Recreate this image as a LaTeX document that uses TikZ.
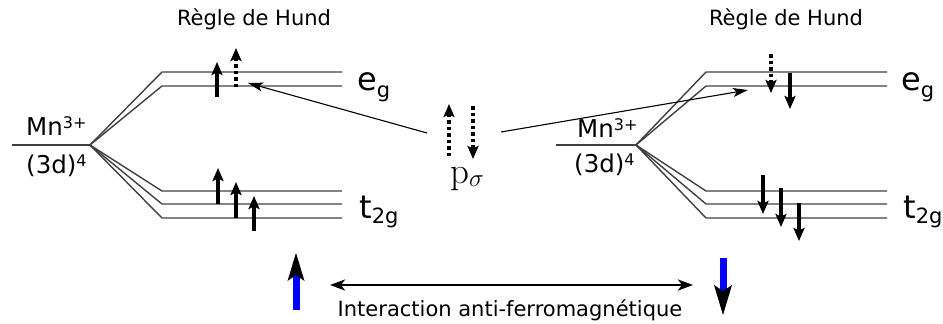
\documentclass[tikz,border=0pt]{standalone}
\usepackage{fontspec}
\newfontfamily\dv{DejaVu Sans}
\usetikzlibrary{arrows.meta}
\newcommand\myexp[2]{\raisebox{#2}{\fontsize{16}{16}\selectfont #1}}
\newcommand\mysub[2]{\raisebox{#2}{\fontsize{21}{21}\selectfont #1}}
\begin{document}
\begin{tikzpicture}[x=1pt,y=-1pt,
  level/.style={draw=black!75, line width=1.4pt},
  spin/.style={line width=3.6pt, -{Stealth[length=13pt,width=11pt,inset=2.5pt]}},
  dspin/.style={spin, dash pattern=on 3.5pt off 3pt},
  conn/.style={line width=1.1pt, -{Stealth[length=15pt,width=9pt,inset=3.5pt]}},
  hund/.style={inner sep=0pt, anchor=base, font=\dv\fontsize{21}{25}\selectfont},
  mn/.style={inner sep=0pt, anchor=base west, font=\dv\fontsize{24.5}{28}\selectfont},
  orb/.style={inner sep=0pt, anchor=base west, font=\dv\fontsize{32}{36}\selectfont},
  big/.style={fill=black},
]
\useasboundingbox (0,0) rectangle (943,324);

% ---------- left ion ----------
\coordinate (Lv) at (90,145);
\coordinate (Lm) at (12,145);
\draw[level] (Lm) -- (Lv);
\foreach \y in {72,86,191,204,218}{
  \draw[level] (Lv) -- (162,\y) -- (342,\y);
}
\node[mn] (mnL) at (26,135) {Mn\myexp{3+}{7pt}};
\node[mn] (dL) at (26,173) {(3d)\myexp{4}{7pt}};
\node[orb] (egL) at (357,90) {e\mysub{g}{-7pt}};
\node[orb] (tL) at (359,218) {t\mysub{2g}{-5pt}};
\node[hund] (hL) at (254,25) {Règle de Hund};

\draw[spin] (217,97) -- (217,62);
\draw[dspin] (236,87) -- (236,48);
\draw[spin] (218,204) -- (218,168);
\draw[spin] (236,218) -- (236,182);
\draw[spin] (254,231) -- (254,196);

% ---------- right ion ----------
\coordinate (Rv) at (636,145);
\coordinate (Rm) at (556,145);
\draw[level] (Rm) -- (Rv);
\foreach \y in {72,86,191,204,218}{
  \draw[level] (Rv) -- (706,\y) -- (887,\y);
}
\node[mn] (mnR) at (577,137) {Mn\myexp{3+}{7pt}};
\node[mn] (dR) at (574,172) {(3d)\myexp{4}{7pt}};
\node[orb] (egR) at (901,90) {e\mysub{g}{-7pt}};
\node[orb] (tR) at (903,218) {t\mysub{2g}{-5pt}};
\node[hund] (hR) at (786,25) {Règle de Hund};

\draw[dspin] (771,54) -- (771,93);
\draw[spin] (790,73) -- (790,109);
\draw[spin] (763,175) -- (763,214);
\draw[spin] (781,188) -- (781,227);
\draw[spin] (799,203) -- (799,241);

% ---------- p sigma ----------
\node[inner sep=0pt, anchor=base west, font=\fontsize{37}{40}\selectfont] (p) at (450,183) {$\mathrm{p}_\sigma$};
\draw[dspin] (449,156) -- (449,104);
\draw[dspin] (473,106) -- (473,159);

\coordinate (pL) at (427,133);
\coordinate (pR) at (501,132);
\coordinate (eLt) at (248,83);
\coordinate (eRt) at (748,90);
\draw[conn] (pL) -- (eLt);
\draw[conn] (pR) -- (eRt);

% ---------- bottom ----------
\draw[blue, line width=7pt] (296,310) -- (296,274);
\fill[big] (296,253) -- (304.5,281) -- (296,275) -- (287.5,281) -- cycle;
\draw[blue, line width=7pt] (723,258) -- (723,291);
\fill[big] (723,315) -- (732,285) -- (723,291) -- (714,285) -- cycle;

\coordinate (aL) at (330,285);
\coordinate (aR) at (693,285);
\draw[line width=2.6pt, {Stealth[length=15pt,width=11pt,inset=4pt]}-{Stealth[length=15pt,width=11pt,inset=4pt]}] (aL) -- (aR);
\node[hund] (inter) at (510,316) {Interaction anti-ferromagnétique};
\end{tikzpicture}
\end{document}
